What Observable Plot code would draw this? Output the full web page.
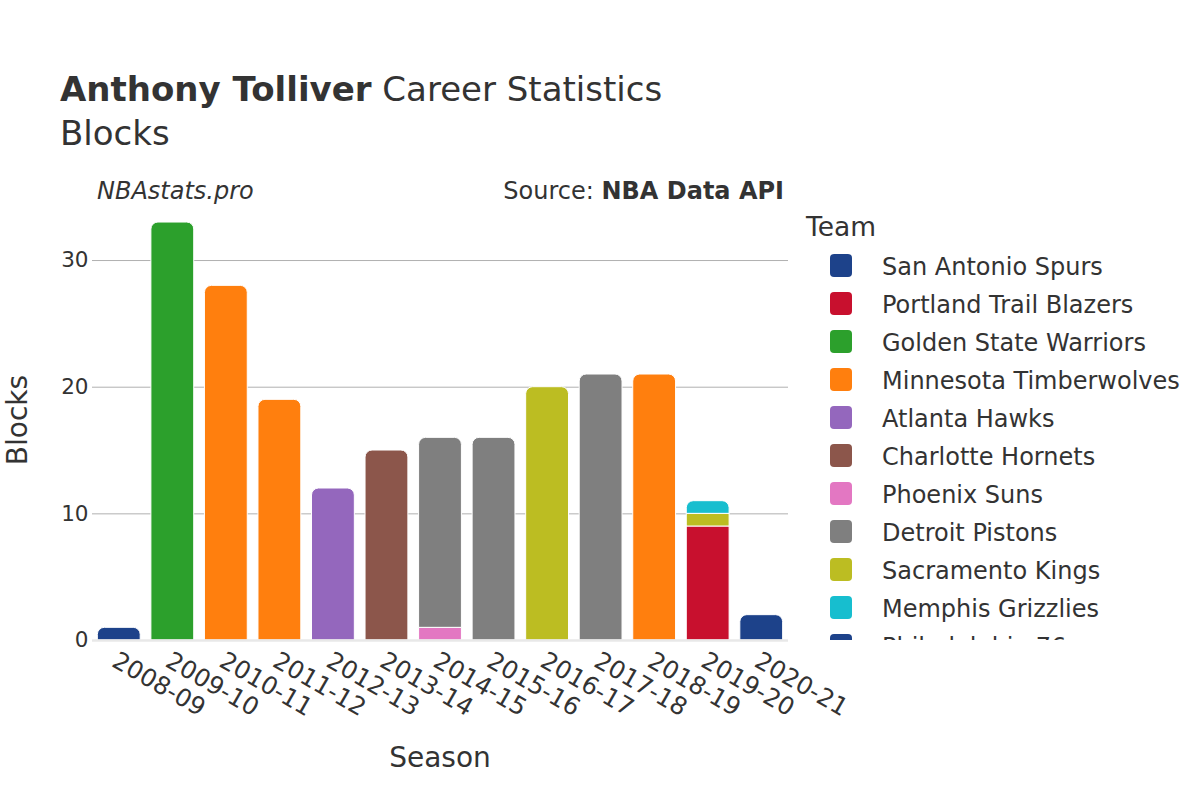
<!DOCTYPE html>
<html><head><meta charset="utf-8">
<script src="https://cdn.jsdelivr.net/npm/d3@7"></script>
<script src="https://cdn.jsdelivr.net/npm/@observablehq/plot@0.6"></script>
<style>
body{margin:0;background:#fff;}
#wrap{position:relative;width:1200px;height:800px;overflow:hidden;font-family:"DejaVu Sans",sans-serif;color:#333;}
.t{position:absolute;white-space:nowrap;line-height:1;}
#chart{position:absolute;left:0;top:0;}
#legend{position:absolute;left:800px;top:200px;width:400px;height:440px;overflow:hidden;}
.sw{position:absolute;left:30px;width:22px;height:23px;border-radius:4px;}
.lt{position:absolute;left:82px;font-size:24px;line-height:1;white-space:nowrap;}
</style></head><body>
<div id="wrap">
 <div id="chart"></div>
 <div class="t" style="left:60px;top:72px;font-size:34px"><b>Anthony Tolliver</b> Career Statistics</div>
 <div class="t" style="left:60px;top:116px;font-size:34px">Blocks</div>
 <div class="t" style="left:97px;top:178.5px;font-size:24px;font-style:italic">NBAstats.pro</div>
 <div class="t" style="right:416px;top:178.5px;font-size:24px">Source: <b>NBA Data API</b></div>
 <div class="t" style="left:440px;top:744px;font-size:28px;transform:translateX(-50%)">Season</div>
 <div class="t" style="left:18px;top:420px;font-size:28px;transform:translate(-50%,-50%) rotate(-90deg)">Blocks</div>
 <div class="t" style="left:806px;top:213.5px;font-size:26.5px">Team</div>
 <div id="legend"></div>
</div>
<script>
const seasons = ["2008-09","2009-10","2010-11","2011-12","2012-13","2013-14","2014-15","2015-16","2016-17","2017-18","2018-19","2019-20","2020-21"];
const teams = ["San Antonio Spurs","Portland Trail Blazers","Golden State Warriors","Minnesota Timberwolves","Atlanta Hawks","Charlotte Hornets","Phoenix Suns","Detroit Pistons","Sacramento Kings","Memphis Grizzlies","Philadelphia 76ers"];
const teamColors = ["#1d428a","#c8102e","#2ca02c","#ff7f0e","#9467bd","#8c564b","#e377c2","#7f7f7f","#bcbd22","#17becf","#1d428a"];
const recSeason = ["2008-09","2009-10","2010-11","2011-12","2012-13","2013-14","2014-15","2014-15","2015-16","2016-17","2017-18","2018-19","2019-20","2019-20","2019-20","2020-21"];
const recTeam = ["San Antonio Spurs","Golden State Warriors","Minnesota Timberwolves","Minnesota Timberwolves","Atlanta Hawks","Charlotte Hornets","Phoenix Suns","Detroit Pistons","Detroit Pistons","Sacramento Kings","Detroit Pistons","Minnesota Timberwolves","Portland Trail Blazers","Sacramento Kings","Memphis Grizzlies","Philadelphia 76ers"];
const recBlocks = [1,33,28,19,12,15,1,15,16,20,21,21,9,1,1,2];
const yTicks = [0,10,20,30];
const yMax = 34.74;

const rows = recSeason.map((s,i)=>({season:s, team:recTeam[i], blocks:recBlocks[i]}));
const cum = new Map();
rows.forEach(r=>{const b=cum.get(r.season)||0; r.y1=b; r.y2=b+r.blocks; cum.set(r.season,r.y2);});
rows.forEach(r=>{r.top = r.y2===cum.get(r.season);});

const chart = Plot.plot({
  width: 1200, height: 800,
  marginLeft: 92, marginRight: 412, marginTop: 200, marginBottom: 160,
  style: {fontFamily:"DejaVu Sans", fontSize:"21.5px", color:"#333", background:"transparent", overflow:"visible"},
  x: {domain: seasons, paddingInner:0.2, paddingOuter:0.1, round:false, label:null, axis:null},
  y: {domain:[0,yMax], label:null},
  color: {domain: teams, range: teamColors},
  marks: [
    Plot.gridY(yTicks.filter(d=>d>0), {stroke:"#b0b0b0", strokeOpacity:1}),
    Plot.barY(rows.filter(r=>!r.top), {x:"season", y1:"y1", y2:"y2", fill:"team", stroke:"white", strokeWidth:1}),
    Plot.barY(rows.filter(r=>r.top), {x:"season", y1:"y1", y2:"y2", fill:"team", stroke:"white", strokeWidth:1, ry1:7}),
    Plot.ruleY([0], {stroke:"#e8e8e8", strokeWidth:2.5}),
    Plot.axisY({ticks:yTicks, tickSize:0, tickPadding:4, label:null, fontSize:21.5}),
    Plot.text(seasons, {x:d=>d, frameAnchor:"bottom", rotate:30, textAnchor:"start", lineAnchor:"top", dy:10, fontSize:24.5, fill:"#333"})
  ]
});
document.getElementById("chart").appendChild(chart);

const lg = document.getElementById("legend");
teams.forEach((t,i)=>{
  const sw = document.createElement("div"); sw.className="sw";
  sw.style.top = (54 + i*38) + "px"; sw.style.background = teamColors[i];
  const tx = document.createElement("div"); tx.className="lt";
  tx.style.top = (54.5 + i*38) + "px"; tx.textContent = t;
  lg.appendChild(sw); lg.appendChild(tx);
});
</script>
</body></html>
